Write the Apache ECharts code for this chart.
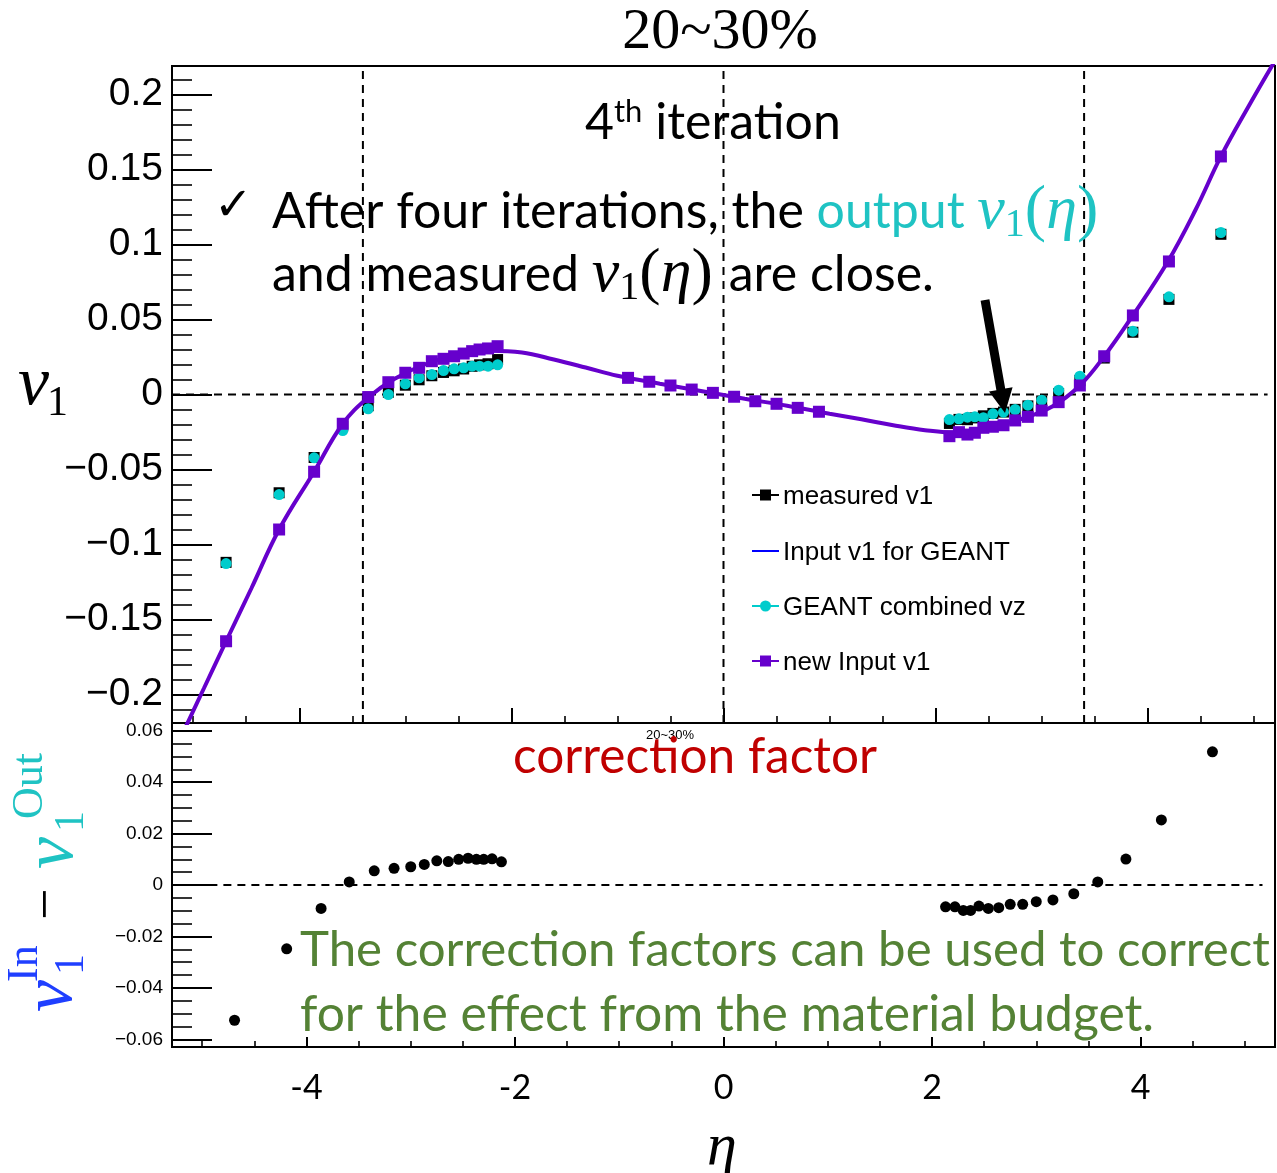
<!DOCTYPE html>
<html>
<head>
<meta charset="utf-8">
<script src="https://cdn.jsdelivr.net/npm/echarts@6/dist/echarts.min.js"></script>
<style>
  html, body { margin: 0; padding: 0; background: #ffffff; }
  #chart { width: 1277px; height: 1173px; }
</style>
</head>
<body>
<div id="chart"></div>
<script>
// pseudorapidity bins of the forward measurement (both sides)
const etaFwd = [-4.69, -4.19, -3.86, -3.59, -3.35, -3.16, -3.00, -2.87, -2.75, -2.64, -2.54, -2.45, -2.37, -2.30, -2.22, -2.13,
                 2.13,  2.22,  2.30,  2.37,  2.45,  2.54,  2.64,  2.75,  2.87,  3.00,  3.16,  3.36,  3.59,  3.86,  4.20,  4.69];

// measured v1
const v1Measured = [-0.1119, -0.0655, -0.0420, -0.0210, -0.0075, 0.0015, 0.0062, 0.0098, 0.0125, 0.0147, 0.0158, 0.0170, 0.0188, 0.0198, 0.0205, 0.0233,
                    -0.0193, -0.0166, -0.0168, -0.0156, -0.0142, -0.0126, -0.0117, -0.0099, -0.0076, -0.0043, 0.0006, 0.0094, 0.0243, 0.0415, 0.0634, 0.1068];

// GEANT output, combined vz
const v1Geant = [-0.1127, -0.0667, -0.0422, -0.0240, -0.0095, 0.0000, 0.0071, 0.0111, 0.0133, 0.0160, 0.0171, 0.0178, 0.0189, 0.0189, 0.0189, 0.0198,
                 -0.0167, -0.0162, -0.0151, -0.0149, -0.0155, -0.0129, -0.0118, -0.0100, -0.0071, -0.0038, 0.0029, 0.0122, 0.0251, 0.0422, 0.0651, 0.1080];

// new input v1 at the forward bins
const v1NewInput = [-0.1645, -0.0900, -0.0515, -0.0195, -0.0017, 0.0082, 0.0145, 0.0178, 0.0222, 0.0238, 0.0255, 0.0273, 0.0289, 0.0300, 0.0307, 0.0322,
                    -0.0278, -0.0251, -0.0267, -0.0255, -0.0222, -0.0215, -0.0205, -0.0173, -0.0149, -0.0107, -0.0051, 0.0060, 0.0255, 0.0527, 0.0887, 0.1587];

// new input v1 at mid-rapidity
const etaMid = [-0.9, -0.7, -0.5, -0.3, -0.1, 0.1, 0.3, 0.5, 0.7, 0.9];
const v1NewInputMid = [0.0111, 0.0085, 0.0060, 0.0033, 0.0011, -0.0015, -0.0045, -0.0062, -0.0089, -0.0115];

// input v1(eta) function handed to GEANT
const etaCurve = [-5.10, -4.90, -4.69, -4.45, -4.19, -3.86, -3.59, -3.35, -3.10, -2.80, -2.50, -2.20, -1.90, -1.60, -1.30, -1.00,
                  -0.60, -0.20, 0.20, 0.60, 1.00, 1.30, 1.60, 1.90, 2.20, 2.50, 2.80, 3.10, 3.36, 3.59, 3.86, 4.19, 4.45, 4.69, 4.95, 5.20];
const v1InputCurve = [-0.2260, -0.1960, -0.1645, -0.1290, -0.0900, -0.0515, -0.0195, -0.0020, 0.0105, 0.0205, 0.0265, 0.0292, 0.0280, 0.0233, 0.0180, 0.0125,
                      0.0072, 0.0022, -0.0028, -0.0075, -0.0128, -0.0165, -0.0205, -0.0238, -0.0255, -0.0222, -0.0165, -0.0080, 0.0060, 0.0255, 0.0527, 0.0887, 0.1230, 0.1587, 0.1920, 0.2225];

// correction factor v1(in) - v1(out)
const corrFactor = [-0.0526, -0.0248, -0.0091, 0.0012, 0.0055, 0.0065, 0.0071, 0.0080, 0.0094, 0.0091, 0.0100, 0.0104, 0.0100, 0.0100, 0.0102, 0.0090,
                    -0.0085, -0.0085, -0.0099, -0.0099, -0.0082, -0.0091, -0.0088, -0.0075, -0.0075, -0.0065, -0.0058, -0.0034, 0.0012, 0.0101, 0.0253, 0.0518];

// reference lines
const refLinesEta = [-3.4, 0, 3.4];

// axis ticks
const etaMajorTicks = [-4, -2, 0, 2, 4];
const etaMinorTicks = [-5, -4.5, -3.5, -3, -2.5, -1.5, -1, -0.5, 0.5, 1, 1.5, 2.5, 3, 3.5, 4.5, 5];
const v1MajorTicks = [-0.2, -0.15, -0.1, -0.05, 0, 0.05, 0.1, 0.15, 0.2];
const corrMajorTicks = [-0.06, -0.04, -0.02, 0, 0.02, 0.04, 0.06];

function stepTicks(lo, hi, step) {
  const out = [];
  const n = Math.round((hi - lo) / step);
  for (let i = 0; i <= n; i++) out.push(+(lo + i * step).toFixed(4));
  return out;
}
const v1MinorTicks = stepTicks(-0.21, 0.21, 0.01);
const corrMinorTicks = stepTicks(-0.06, 0.06, 0.005);

const BLACK = '#000000';
const CYAN = '#00cccc';
const CYAN_T = '#1fc3c3';
const VIOLET = '#6600cc';
const BLUE = '#0000ff';
const SANS = 'Liberation Sans';
const BODY = 'Lato';
const SERIF = 'Liberation Serif';
const BODY_FS = 50;

const zip = (xs, ys) => xs.map((x, i) => [x, ys[i]]);
const minusFmt = v => (v < 0 ? '\u2212' + String(+(-v).toFixed(4)) : String(+v.toFixed(4)));
const hyphenFmt = v => (v < 0 ? '-' + String(-v) : String(v));

function majorAxis(gridIndex, position, min, max, ticks, tickLen, label) {
  return {
    type: 'value', gridIndex, position, min, max,
    axisLine: { show: true, onZero: false, lineStyle: { color: BLACK, width: 2 } },
    axisTick: { show: true, inside: true, length: tickLen, customValues: ticks, lineStyle: { color: BLACK, width: 2 } },
    axisLabel: label ? Object.assign({ show: true, customValues: ticks, color: BLACK }, label) : { show: false },
    splitLine: { show: false }
  };
}
function minorAxis(gridIndex, position, min, max, ticks, tickLen) {
  return {
    type: 'value', gridIndex, position, offset: 0, min, max,
    axisLine: { show: false, onZero: false },
    axisTick: { show: true, inside: true, length: tickLen, customValues: ticks, lineStyle: { color: BLACK, width: 1.6 } },
    axisLabel: { show: false },
    splitLine: { show: false }
  };
}

const dashed = { color: BLACK, width: 2, type: [8, 6] };
const refSeries = [
  { type: 'line', xAxisIndex: 0, yAxisIndex: 0, data: [[-5.2, 0], [5.13, 0]], symbol: 'none', silent: true, lineStyle: dashed, z: 1 }
].concat(refLinesEta.map(e => ({
  type: 'line', xAxisIndex: 0, yAxisIndex: 0, data: [[e, -0.219], [e, 0.219]], symbol: 'none', silent: true, lineStyle: dashed, z: 1
}))).concat([
  { type: 'line', xAxisIndex: 2, yAxisIndex: 2, data: [[-5.2, 0], [5.17, 0]], symbol: 'none', silent: true, lineStyle: dashed, z: 1 }
]);

// text helpers
function txt(x, y, text, style, extra) {
  return Object.assign({ type: 'text', x, y, z: 100, style: Object.assign({ text, fill: BLACK, verticalAlign: 'middle', align: 'left' }, style) }, extra || {});
}
const rot = { rotation: Math.PI / 2 };

const legendRows = [
  { y: 495, name: 'measured v1', color: BLACK, mark: 'square' },
  { y: 551, name: 'Input v1 for GEANT', color: BLUE, mark: null },
  { y: 606, name: 'GEANT combined vz', color: CYAN, mark: 'circle' },
  { y: 661, name: 'new Input v1', color: VIOLET, mark: 'square' }
];
const legendEls = [];
legendRows.forEach(r => {
  legendEls.push({ type: 'line', z: 100, shape: { x1: 752, y1: r.y, x2: 779, y2: r.y }, style: { stroke: r.color, lineWidth: 2 } });
  if (r.mark === 'square') legendEls.push({ type: 'rect', z: 101, shape: { x: 760, y: r.y - 5.5, width: 11, height: 11 }, style: { fill: r.color } });
  if (r.mark === 'circle') legendEls.push({ type: 'circle', z: 101, shape: { cx: 765.5, cy: r.y, r: 5.5 }, style: { fill: r.color } });
  legendEls.push(txt(783, r.y + 2, r.name, { font: '26px "' + SANS + '"' }));
});

const mathRich = (col) => ({
  a: { fontFamily: BODY, fontSize: BODY_FS, fill: BLACK },
  c: { fontFamily: BODY, fontSize: BODY_FS, fill: CYAN_T },
  mv: { fontFamily: SERIF, fontStyle: 'italic', fontSize: 62, fill: col },
  ms: { fontFamily: SERIF, fontSize: 40, fill: col, padding: [26, 0, 0, 0] },
  mp: { fontFamily: SERIF, fontSize: 64, fill: col }
});

const graphics = [
  // panel headline
  txt(720, 33, '20~30%', { font: '58px "' + SERIF + '"', align: 'center' }),
  txt(585, 123, '{n|4}{s|th}{n| iteration}', {
    rich: { n: { fontFamily: BODY, fontSize: BODY_FS, fill: BLACK }, s: { fontFamily: BODY, fontSize: 31, fill: BLACK, padding: [0, 0, 22, 0] } }
  }),
  txt(214, 208, '\u2713', { font: '46px "DejaVu Sans"' }),
  txt(272, 212, '{a|After four iterations, the }{c|output }{mv|v}{ms|1}{mp|(}{mv|\u03b7}{mp|)}', { rich: mathRich(CYAN_T) }),
  txt(272, 275, '{a|and measured }{mv|v}{ms|1}{mp|(}{mv|\u03b7}{mp|) }{a|are close.}', { rich: mathRich(BLACK) }),
  // arrow
  { type: 'polygon', z: 100, shape: { points: [[980.6, 300.8], [996.4, 390.2], [989.0, 391.5], [1005, 413], [1012.6, 387.3], [1005.2, 388.6], [989.4, 299.2]] }, style: { fill: BLACK } },
  // y title, upper panel
  txt(18, 386, 'v', { font: 'italic 70px "' + SERIF + '"' }),
  txt(47, 404, '1', { font: '42px "' + SERIF + '"' }),
  // lower panel annotations
  txt(670, 735, '20~30%', { font: '13px "' + SANS + '"', align: 'center' }),
  txt(513, 757, 'correction factor', { font: '49.5px "' + BODY + '"', fill: '#c00000' }),
  txt(300, 950, 'The correction factors can be used to correct', { font: '49.2px "' + BODY + '"', fill: '#548235' }),
  txt(300, 1015, 'for the effect from the material budget.', { font: '49.8px "' + BODY + '"', fill: '#548235' }),
  // y title, lower panel (rotated)
  txt(52, 1012, 'v', { font: 'italic 72px "' + SERIF + '"', fill: '#1f3fff' }, rot),
  txt(72, 975, '1', { font: '42px "' + SERIF + '"', fill: '#1f3fff' }, rot),
  txt(25, 982, 'In', { font: '44px "' + SERIF + '"', fill: '#1f3fff' }, rot),
  txt(48, 920, '\u2212', { font: '56px "' + SERIF + '"' }, rot),
  txt(53, 869, 'v', { font: 'italic 72px "' + SERIF + '"', fill: CYAN_T }, rot),
  txt(72, 832, '1', { font: '42px "' + SERIF + '"', fill: CYAN_T }, rot),
  txt(30, 819, 'Out', { font: '44px "' + SERIF + '"', fill: CYAN_T }, rot),
  // x title
  txt(722, 1148, '\u03b7', { font: 'italic 60px "' + SERIF + '"', align: 'center' })
].concat(legendEls);

const solid = c => ({ color: c, opacity: 1 });

const option = {
  animation: false,
  backgroundColor: '#ffffff',
  grid: [
    { left: 172, top: 66, width: 1103, height: 657, show: true, borderColor: BLACK, borderWidth: 2, backgroundColor: 'transparent' },
    { left: 172, top: 723, width: 1103, height: 324, show: true, borderColor: BLACK, borderWidth: 2, backgroundColor: 'transparent' }
  ],
  xAxis: [
    majorAxis(0, 'bottom', -5.2, 5.2, etaMajorTicks, 15, null),
    minorAxis(0, 'bottom', -5.2, 5.2, etaMinorTicks, 7),
    majorAxis(1, 'bottom', -5.29, 5.29, etaMajorTicks, 10, { fontFamily: BODY, fontSize: 34, margin: 24, formatter: hyphenFmt }),
    minorAxis(1, 'bottom', -5.29, 5.29, etaMinorTicks, 6)
  ],
  yAxis: [
    majorAxis(0, 'left', -0.219, 0.219, v1MajorTicks, 40, { fontFamily: SANS, fontSize: 39, margin: 9, formatter: minusFmt }),
    minorAxis(0, 'left', -0.219, 0.219, v1MinorTicks, 20),
    majorAxis(1, 'left', -0.063, 0.063, corrMajorTicks, 40, { fontFamily: SANS, fontSize: 19, margin: 9, formatter: minusFmt }),
    minorAxis(1, 'left', -0.063, 0.063, corrMinorTicks, 20)
  ],
  series: refSeries.concat([
    { name: 'Input v1 for GEANT', type: 'line', xAxisIndex: 0, yAxisIndex: 0, data: zip(etaCurve, v1InputCurve), smooth: 0.4,
      symbol: 'none', lineStyle: { color: BLUE, width: 2 }, z: 3 },
    { name: 'measured v1', type: 'scatter', xAxisIndex: 0, yAxisIndex: 0, data: zip(etaFwd, v1Measured),
      symbol: 'rect', symbolSize: 11, itemStyle: solid(BLACK), z: 4 },
    { name: 'GEANT combined vz', type: 'scatter', xAxisIndex: 0, yAxisIndex: 0, data: zip(etaFwd, v1Geant),
      symbol: 'circle', symbolSize: 11, itemStyle: solid(CYAN), z: 5 },
    { name: 'new Input v1 curve', type: 'line', xAxisIndex: 0, yAxisIndex: 0, data: zip(etaCurve, v1InputCurve), smooth: 0.4,
      symbol: 'none', lineStyle: { color: VIOLET, width: 4 }, z: 6 },
    { name: 'new Input v1', type: 'scatter', xAxisIndex: 0, yAxisIndex: 0, data: zip(etaFwd, v1NewInput).concat(zip(etaMid, v1NewInputMid)),
      symbol: 'rect', symbolSize: 12, itemStyle: solid(VIOLET), z: 7 },
    { name: 'correction factor', type: 'scatter', xAxisIndex: 2, yAxisIndex: 2, data: zip(etaFwd, corrFactor),
      symbol: 'circle', symbolSize: 11, itemStyle: solid(BLACK), z: 5 }
  ]),
  graphic: graphics
};

const chart = echarts.init(document.getElementById('chart'), null, { renderer: 'canvas' });
chart.setOption(option);
</script>
</body>
</html>
